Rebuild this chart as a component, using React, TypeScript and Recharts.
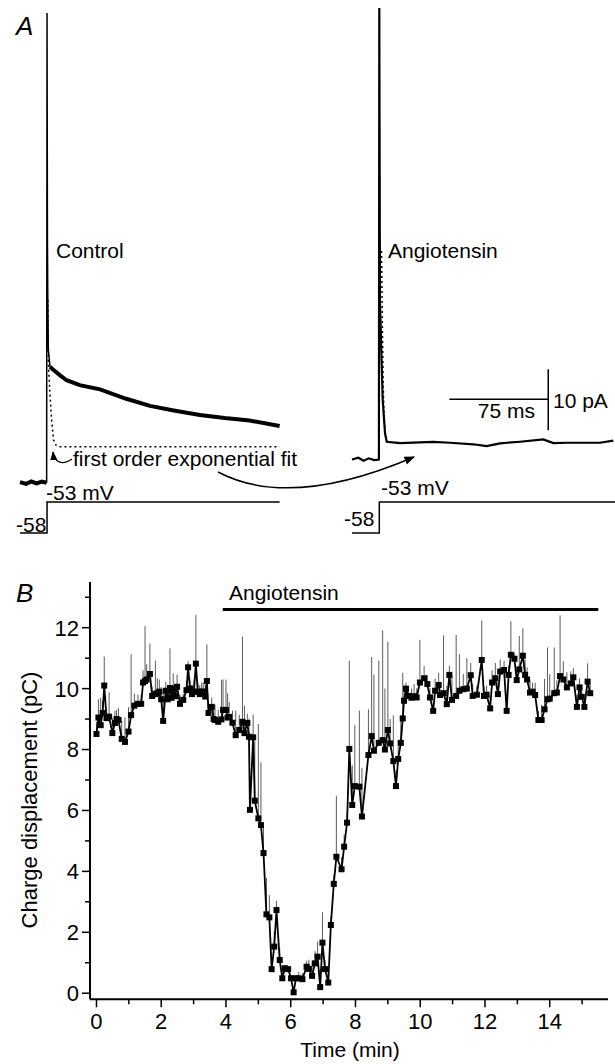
import React from 'react'
import { LineChart, Line, XAxis, YAxis, ComposedChart, ErrorBar, ReferenceLine } from 'recharts'

// ---- Panel A: current traces (ms, pA) and voltage steps (ms, mV) ----
const ctlBaseAndDecay: [number, number | null][] = [
  [-20.7, 0.1], [-16, -0.2], [-12, 0.2], [-8, -0.1], [-4, 0.2], [-0.3, 0], [-0.2, null],
  [2.3, 19.0], [4.8, 18.5], [10, 17.6], [15, 16.8], [25, 16.0], [40.6, 15.3], [60, 13.8],
  [78.8, 12.6], [98, 11.8], [117, 11.1], [136, 10.6], [155, 10.2], [178, 9.3],
]
const ctlSpike: [number, number][] = [
  [-0.3, 0], [0, 77], [0.3, 40], [0.6, 30], [1.0, 21.8], [2.3, 19.0],
]
const ctlFit: [number, number][] = [
  [0.6, 30], [1.0, 19.6], [2.3, 14.4], [3.5, 10.3], [5, 7.0], [7, 6.1], [10, 5.9], [178, 5.9],
]
const angTrace: [number, number][] = [
  [-20.9, 3.8], [-16, 4.1], [-12, 3.6], [-8, 4.0], [-4, 3.7], [-0.3, 3.8], [0, 77.8],
  [0.5, 29.9], [2.6, 13.6], [4.4, 8.1], [5.7, 6.7], [15.8, 6.5], [41.3, 6.7], [54.1, 6.55],
  [71.9, 6.3], [82.2, 6.0], [92.4, 6.46], [107.7, 6.72], [125.5, 7.1], [133.2, 6.5],
  [143.4, 6.55], [168.9, 6.55], [179.1, 6.9],
]
const angFit: [number, number][] = [
  [1.7, 38], [2.4, 25], [3.0, 16], [3.8, 10], [5, 7.2], [7, 6.4],
]
const ctlStep: [number, number][] = [[-20.7, -58], [0, -58], [0, -53], [178, -53]]
const angStep: [number, number][] = [[-20.9, -58], [0, -58], [0, -53], [180.4, -53]]
const scaleTime: [number, number][] = [[53.6, 13.7], [129.3, 13.7]]
const scaleCurrent: [number, number][] = [[129.3, 8.6], [129.3, 18.6]]

// ---- Panel B: charge displacement over time ----
const timeMin = [
  0.00, 0.06, 0.13, 0.19, 0.24, 0.31, 0.39, 0.49, 0.57, 0.62, 0.68, 0.78, 0.88, 0.99, 1.07, 1.17,
  1.28, 1.38, 1.44, 1.50, 1.55, 1.65, 1.72, 1.82, 1.88, 1.94, 2.00, 2.06, 2.14, 2.20, 2.27, 2.32,
  2.37, 2.43, 2.49, 2.58, 2.68, 2.78, 2.83, 2.89, 2.95, 3.01, 3.07, 3.13, 3.19, 3.25, 3.30, 3.36,
  3.41, 3.46, 3.56, 3.62, 3.66, 3.76, 3.86, 3.91, 4.00, 4.05, 4.10, 4.20, 4.30, 4.41, 4.51, 4.57,
  4.66, 4.71, 4.74, 4.84, 4.89, 5.00, 5.08, 5.16, 5.25, 5.34, 5.41, 5.49, 5.56, 5.66, 5.74, 5.82,
  5.92, 6.01, 6.09, 6.16, 6.25, 6.36, 6.49, 6.56, 6.66, 6.75, 6.83, 6.91, 6.98, 7.06, 7.16, 7.24,
  7.33, 7.41, 7.57, 7.65, 7.74, 7.81, 7.90, 7.98, 8.12, 8.20, 8.40, 8.50, 8.57, 8.72, 8.84, 8.91,
  9.00, 9.07, 9.17, 9.25, 9.32, 9.40, 9.46, 9.50, 9.56, 9.63, 9.73, 9.81, 9.89, 9.99, 10.12, 10.22,
  10.30, 10.40, 10.46, 10.57, 10.61, 10.72, 10.82, 10.90, 10.98, 11.11, 11.21, 11.33, 11.44, 11.56,
  11.62, 11.75, 11.90, 11.97, 12.05, 12.16, 12.22, 12.32, 12.40, 12.47, 12.59, 12.67, 12.73, 12.80,
  12.91, 12.98, 13.06, 13.17, 13.24, 13.30, 13.39, 13.47, 13.55, 13.65, 13.75, 13.84, 13.93, 14.00,
  14.14, 14.22, 14.32, 14.42, 14.53, 14.65, 14.73, 14.84, 14.92, 14.99, 15.07, 15.17, 15.25,
]
const chargePC = [
  8.51, 9.05, 8.80, 9.20, 10.10, 9.03, 9.08, 8.54, 8.87, 9.00, 8.97, 8.35, 8.25, 8.59, 9.13, 9.44,
  9.50, 9.50, 10.20, 10.25, 10.30, 10.48, 9.76, 9.82, 9.85, 9.90, 9.65, 8.94, 9.93, 9.65, 10.02, 9.70,
  10.00, 9.75, 10.06, 9.50, 9.63, 9.95, 10.70, 10.00, 9.82, 9.90, 10.82, 9.90, 9.82, 9.90, 9.90, 9.74,
  10.25, 9.20, 9.40, 9.00, 8.97, 8.91, 8.99, 9.30, 9.30, 9.05, 9.07, 8.88, 8.47, 8.64, 8.91, 8.54,
  8.87, 8.42, 6.02, 8.40, 6.32, 5.74, 5.52, 4.60, 2.59, 2.49, 0.79, 1.53, 2.73, 1.09, 0.49, 0.82,
  0.79, 0.49, 0.03, 0.49, 0.49, 0.46, 0.87, 0.80, 0.57, 0.98, 1.20, 0.20, 1.66, 0.79, 0.35, 2.24,
  3.59, 4.48, 4.07, 4.81, 5.60, 8.02, 6.18, 6.80, 6.78, 5.80, 7.82, 8.44, 7.96, 8.22, 8.31, 8.00,
  8.64, 8.20, 7.62, 6.80, 7.69, 8.22, 9.02, 9.60, 10.00, 9.76, 9.70, 9.75, 9.71, 10.20, 10.34, 10.15,
  9.71, 9.27, 9.93, 10.12, 9.79, 9.85, 9.49, 10.45, 9.63, 9.76, 9.93, 9.98, 10.00, 10.44,
  9.76, 9.80, 10.94, 9.76, 9.80, 9.35, 10.20, 10.34, 9.82, 10.56, 10.61, 9.27, 10.45, 11.11,
  10.98, 10.28, 10.63, 11.08, 10.45, 10.30, 9.87, 9.90, 9.79, 8.97, 8.97, 9.32, 9.65, 9.67,
  9.85, 9.87, 10.41, 10.30, 10.04, 10.17, 10.37, 9.40, 10.04, 9.73, 9.40, 10.23, 9.85,
]
const chargeErr = [
  0.4, 0.6, 0.9, 0.4, 0.95, 0.3, 0.8, 0.5, 0.4, 0.3, 0.4, 0.6, 0.8, 0.8, 2.0, 0.4,
  0.3, 0.3, 0.4, 1.8, 0.5, 1.0, 0.3, 1.1, 0.5, 0.4, 0.4, 1.0, 0.3, 0.4, 1.3, 0.3,
  0.5, 0.4, 0.4, 0.3, 0.2, 0.3, 0.2, 0.3, 0.3, 0.4, 1.6, 0.3, 0.3, 0.3, 0.3, 0.4,
  1.2, 0.4, 0.3, 0.3, 0.5, 0.4, 1.3, 1.0, 1.0, 0.8, 0.5, 0.4, 0.8, 0.5, 2.8, 0.9,
  0.3, 0.6, 0.4, 0.75, 1.95, 3.1, 2.06, 0.9, 1.2, 0.73, 0.5, 0.5, 0.3, 0.4, 0.4, 0.1,
  0.1, 0.1, 0.1, 0.1, 0.2, 0.2, 0.2, 0.3, 0.5, 0.4, 0.5, 0.6, 1.0, 0.3, 0.3, 0.3,
  0.3, 2.0, 0.4, 0.4, 0.3, 2.9, 1.3, 2.0, 2.5, 1.6, 1.5, 2.6, 2.5, 2.7, 3.6, 2.0,
  2.9, 0.8, 1.5, 0.5, 0.6, 0.9, 1.5, 0.4, 0.2, 0.2, 0.3, 0.4, 0.3, 1.4, 0.4, 0.3,
  0.3, 0.3, 0.4, 0.4, 0.4, 1.9, 0.6, 0.3, 0.8, 2.0, 1.2, 0.5, 1.0, 0.4,
  0.4, 0.3, 1.3, 0.3, 0.3, 0.4, 0.4, 0.5, 0.4, 0.4, 0.3, 0.4, 0.3, 1.1,
  0.2, 0.3, 1.1, 0.9, 0.5, 0.4, 0.4, 0.3, 0.4, 0.3, 0.5, 1.0, 1.7, 0.8,
  1.5, 0.4, 2.0, 0.6, 0.5, 0.4, 0.3, 0.4, 0.3, 0.4, 0.3, 0.6, 0.3,
]
const xTicks = [0, 1, 2, 3, 4, 5, 6, 7, 8, 9, 10, 11, 12, 13, 14, 15]
const yTicks = [0, 1, 2, 3, 4, 5, 6, 7, 8, 9, 10, 11, 12, 13]
const drugPeriod = [3.9, 15.5]
const drugLevel = 12.6

const FONT = '"Liberation Sans", Arial, sans-serif'

const pts = (arr: [number, number | null][]) => arr.map(([t, v]) => ({ t, v }))

const chargeData = timeMin.map((t, i) => ({ t, v: chargePC[i], err: [0, chargeErr[i]] }))

const SquareDot = (props: any) => {
  const { cx, cy, index } = props
  if (cx == null || cy == null) return <g key={index} />
  return <rect key={index} x={cx - 3} y={cy - 3} width={6} height={6} fill="#000" />
}

const XTick = (props: any) => {
  const { x, y, payload } = props
  const major = payload.value % 2 === 0
  return (
    <g>
      <line x1={x} y1={y} x2={x} y2={y + (major ? 8 : 5)} stroke="#000" strokeWidth={1.5} />
      {major && (
        <text x={x} y={y + 22} dy="0.36em" textAnchor="middle" fontSize={22} fontFamily={FONT} fill="#000">
          {payload.value}
        </text>
      )}
    </g>
  )
}

const YTick = (props: any) => {
  const { x, y, payload } = props
  const major = payload.value % 2 === 0
  return (
    <g>
      <line x1={x - (major ? 8 : 5)} y1={y} x2={x} y2={y} stroke="#000" strokeWidth={1.5} />
      {major && (
        <text x={x - 11} y={y} dy="0.36em" textAnchor="end" fontSize={22} fontFamily={FONT} fill="#000">
          {payload.value}
        </text>
      )}
    </g>
  )
}

const lineBase = { dot: false, activeDot: false, isAnimationActive: false, dataKey: 'v', stroke: '#000' } as const

const App: React.FC = () => {
  return (
    <div style={{ position: 'absolute', left: 0, top: 0, width: 615, height: 1064, background: '#fff' }}>
      {/* Panel A */}
      <div style={{ position: 'absolute', left: 0, top: 0 }}>
        <LineChart width={615} height={545} margin={{ top: 0, right: 0, bottom: 0, left: 0 }}>
          <XAxis xAxisId="ctl" type="number" dataKey="t" domain={[-36.0, 434.7]} hide allowDataOverflow />
          <XAxis xAxisId="ang" type="number" dataKey="t" domain={[-290.3, 180.4]} hide allowDataOverflow />
          <YAxis yAxisId="pA" type="number" domain={[-10.21, 79.13]} hide allowDataOverflow />
          <YAxis yAxisId="mV" type="number" domain={[-59.94, 27.97]} hide allowDataOverflow />
          <Line {...lineBase} xAxisId="ctl" yAxisId="pA" data={pts(ctlBaseAndDecay)} strokeWidth={4} connectNulls={false} />
          <Line {...lineBase} xAxisId="ctl" yAxisId="pA" data={pts(ctlSpike)} strokeWidth={1.5} />
          <Line {...lineBase} xAxisId="ctl" yAxisId="pA" data={pts(ctlFit)} strokeWidth={1.5} strokeDasharray="2 3" />
          <Line {...lineBase} xAxisId="ang" yAxisId="pA" data={pts(angTrace)} strokeWidth={2.2} />
          <Line {...lineBase} xAxisId="ang" yAxisId="pA" data={pts(angFit)} strokeWidth={1.5} strokeDasharray="2 3" />
          <Line {...lineBase} xAxisId="ang" yAxisId="pA" data={pts(scaleTime)} strokeWidth={1.5} />
          <Line {...lineBase} xAxisId="ang" yAxisId="pA" data={pts(scaleCurrent)} strokeWidth={1.5} />
          <Line {...lineBase} xAxisId="ctl" yAxisId="mV" data={pts(ctlStep)} strokeWidth={1.5} />
          <Line {...lineBase} xAxisId="ang" yAxisId="mV" data={pts(angStep)} strokeWidth={1.5} />
        </LineChart>
      </div>

      {/* Panel B */}
      <div style={{ position: 'absolute', left: 0, top: 560 }}>
        <ComposedChart width={615} height={504} data={chargeData} margin={{ top: 22, right: 7, bottom: 0, left: 0 }}>
          <XAxis
            type="number"
            dataKey="t"
            domain={[-0.2, 15.8]}
            ticks={xTicks}
            interval={0}
            allowDataOverflow
            height={64.7}
            tickSize={0}
            tickMargin={0}
            tickLine={false}
            axisLine={{ stroke: '#000', strokeWidth: 2 }}
            tick={<XTick />}
          />
          <YAxis
            type="number"
            domain={[-0.2, 13.5]}
            ticks={yTicks}
            interval={0}
            allowDataOverflow
            width={90}
            tickSize={0}
            tickMargin={0}
            tickLine={false}
            axisLine={{ stroke: '#000', strokeWidth: 2 }}
            tick={<YTick />}
          />
          <ReferenceLine
            segment={[{ x: drugPeriod[0], y: drugLevel }, { x: drugPeriod[1], y: drugLevel }]}
            stroke="#000"
            strokeWidth={3}
          />
          <Line
            dataKey="v"
            stroke="#000"
            strokeWidth={1.8}
            isAnimationActive={false}
            dot={<SquareDot />}
            activeDot={false}
          >
            <ErrorBar dataKey="err" direction="y" width={0} stroke="#5c5c5c" strokeWidth={1} />
          </Line>
        </ComposedChart>
      </div>

      {/* Text and annotation overlay */}
      <svg width={615} height={1064} style={{ position: 'absolute', left: 0, top: 0, pointerEvents: 'none' }}>
        <defs>
          <marker id="arrowHead" viewBox="0 0 10 10" refX="9" refY="5" markerWidth="7" markerHeight="7" orient="auto">
            <path d="M0,1 L10,5 L0,9 z" fill="#000" />
          </marker>
        </defs>
        <g fontFamily={FONT} fill="#000">
          <text x={16} y={35} fontSize={26} fontStyle="italic">A</text>
          <text x={16} y={602} fontSize={26} fontStyle="italic">B</text>
          <text x={56} y={258} fontSize={21}>Control</text>
          <text x={388} y={258} fontSize={21}>Angiotensin</text>
          <text x={73} y={466} fontSize={21}>first order exponential fit</text>
          <text x={46} y={500} fontSize={21}>-53 mV</text>
          <text x={16} y={532} fontSize={21}>-58</text>
          <text x={381} y={495} fontSize={21}>-53 mV</text>
          <text x={344} y={526} fontSize={21}>-58</text>
          <text x={535} y={418} fontSize={21} textAnchor="end">75 ms</text>
          <text x={553} y={408} fontSize={21}>10 pA</text>
          <text x={229} y={600} fontSize={21}>Angiotensin</text>
          <text x={350} y={1057} fontSize={21} textAnchor="middle">Time (min)</text>
          <text x={37} y={800} fontSize={22} textAnchor="middle" transform="rotate(-90 37 800)">
            Charge displacement (pC)
          </text>
        </g>
        <path d="M218,472 Q290,510 414,457" fill="none" stroke="#000" strokeWidth={1.5} markerEnd="url(#arrowHead)" />
        <path d="M72,459 C62,466 54,462 53,452" fill="none" stroke="#000" strokeWidth={1.3} markerEnd="url(#arrowHead)" />
      </svg>
    </div>
  )
}

export default App
